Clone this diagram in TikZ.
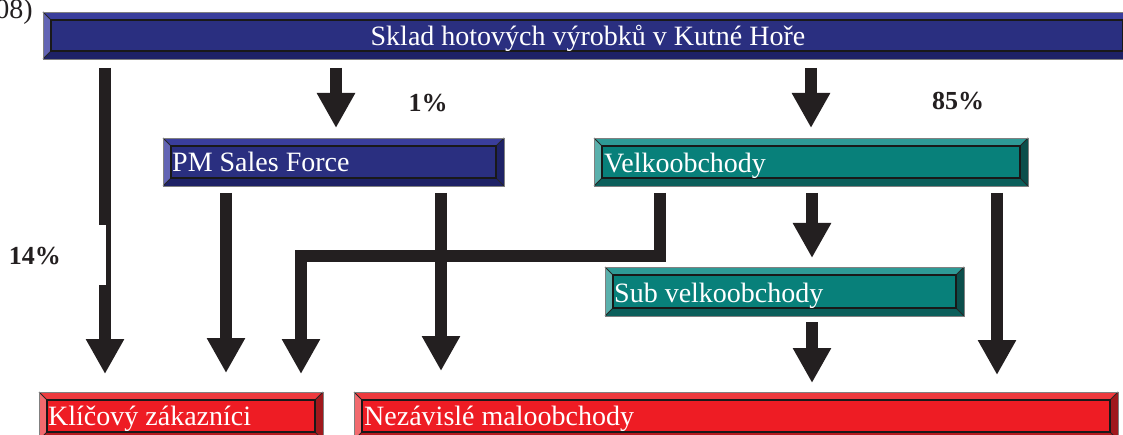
\documentclass[tikz,border=0pt]{standalone}
\usepackage{fontspec}
\setmainfont{Liberation Serif}
\usetikzlibrary{arrows.meta,calc}
\definecolor{arrowc}{HTML}{231F20}
\definecolor{blueT}{HTML}{3A3E9C}
\definecolor{blueM}{HTML}{2A2F80}
\definecolor{blueL}{HTML}{6264B4}
\definecolor{blueR}{HTML}{1E2266}
\definecolor{blueB}{HTML}{1E2266}
\definecolor{tealT}{HTML}{2E9A96}
\definecolor{tealM}{HTML}{08807A}
\definecolor{tealL}{HTML}{5AB0AC}
\definecolor{tealR}{HTML}{0B4E4B}
\definecolor{tealB}{HTML}{0B5F5B}
\definecolor{redT}{HTML}{EE3A3E}
\definecolor{redM}{HTML}{EE1C24}
\definecolor{redL}{HTML}{F26A6E}
\definecolor{redR}{HTML}{A0181C}
\definecolor{redB}{HTML}{B31A1E}
\tikzset{
  boxtext/.style={text=white, font=\fontsize{28}{31}\selectfont, inner sep=0pt, anchor=base west},
  pct/.style={text=arrowc, font=\fontsize{26}{29}\selectfont\bfseries, inner sep=0pt},
  flow/.style={draw=arrowc, line width=12pt, miter limit=10, line join=miter,
    -{Triangle[width=36pt,length=35pt]}},
  anchorbox/.style={inner sep=0pt, outer sep=0pt},
}
\newcommand\bevbox[6]{%
  \fill[#6T] (#2,#3) rectangle (#4,#5);
  \fill[#6L] (#2,#3) -- (#2+8,#3+8) -- (#2+8,#5-8) -- (#2,#5) -- cycle;
  \fill[#6R] (#4,#3) -- (#4-8,#3+8) -- (#4-8,#5-8) -- (#4,#5) -- cycle;
  \fill[#6B] (#2,#5) -- (#2+8,#5-8) -- (#4-8,#5-8) -- (#4,#5) -- cycle;
  \draw[line width=0.8pt, black!85] (#2,#3) -- (#2+8,#3+8) (#4,#3) -- (#4-8,#3+8)
     (#2,#5) -- (#2+8,#5-8) (#4,#5) -- (#4-8,#5-8);
  \node[anchorbox, fill=#6M, draw=black!90, line width=1.8pt,
     minimum width={#4-#2-16}, minimum height={#5-#3-16}] (#1) at ({(#2+#4)/2},{(#3+#5)/2}) {};
  \draw[gray, line width=0.8pt] (#2,#3) rectangle (#4,#5);
}
\begin{document}
\begin{tikzpicture}[x=1pt,y=-1pt]
\useasboundingbox (0,0) rectangle (1123,435);
\clip (0,0) rectangle (1123,435);
\fill[white] (0,0) rectangle (1123,435);

\node[text=arrowc, font=\fontsize{28}{31}\selectfont, inner sep=0pt, anchor=base east] (yr) at (33,19) {08)};

% boxes
\bevbox{sklad}{43}{12}{1131}{59}{blue}
\bevbox{pm}{163}{138}{504}{186}{blue}
\bevbox{vel}{594}{138}{1028}{186}{teal}
\bevbox{sub}{605}{267}{964}{316}{teal}
\bevbox{kli}{39}{392}{323}{440}{red}
\bevbox{nez}{354}{392}{1118}{440}{red}

\node[boxtext, anchor=base] (tsklad) at (588,46) {Sklad hotových výrobků v Kutné Hoře};
\node[boxtext] (tpm) at (172,172) {PM Sales Force};
\node[boxtext] (tvel) at (604,173) {Velkoobchody};
\node[boxtext] (tsub) at (614,302) {Sub velkoobchody};
\node[boxtext] (tkli) at (48,425) {Klíčový zákazníci};
\node[boxtext] (tnez) at (364,425) {Nezávislé maloobchody};

% x positions
\coordinate (xA) at (105,0);
\coordinate (xB) at (336,0);
\coordinate (xC) at (811,0);
\coordinate (xD) at (226,0);
\coordinate (xE) at (441,0);
\coordinate (xF) at (812,0);
\coordinate (xG) at (660,256);
\coordinate (xG2) at (301,256);
\coordinate (xI) at (997,0);

% arrows
\draw[flow, shorten <=17pt, shorten >=26pt] (sklad.south -| xA) -- (kli.north -| xA);
\fill[white] (98,225) rectangle (106,285);
\draw[flow, shorten <=17pt, shorten >=18pt] (sklad.south -| xB) -- (pm.north -| xB);
\draw[flow, shorten <=17pt, shorten >=18pt] (sklad.south -| xC) -- (vel.north -| xC);
\draw[flow, shorten <=15pt, shorten >=27pt] (pm.south -| xD) -- (kli.north -| xD);
\draw[flow, shorten <=15pt, shorten >=29pt] (pm.south -| xE) -- (nez.north -| xE);
\draw[flow, shorten <=15pt, shorten >=17pt] (vel.south -| xF) -- (sub.north -| xF);
\draw[flow, shorten <=15pt, shorten >=26pt] (vel.south -| xG) -- (xG) -- (xG2) -- (kli.north -| xG2);
\draw[flow, shorten <=14pt, shorten >=17pt] (sub.south -| xF) -- (nez.north -| xF);
\draw[flow, shorten <=15pt, shorten >=25pt] (vel.south -| xI) -- (nez.north -| xI);

% percentages
\node[pct] (p14) at (35,256) {14\%};
\node[pct] (p1) at (428,103) {1\%};
\node[pct] (p85) at (958,101) {85\%};
\end{tikzpicture}
\end{document}
